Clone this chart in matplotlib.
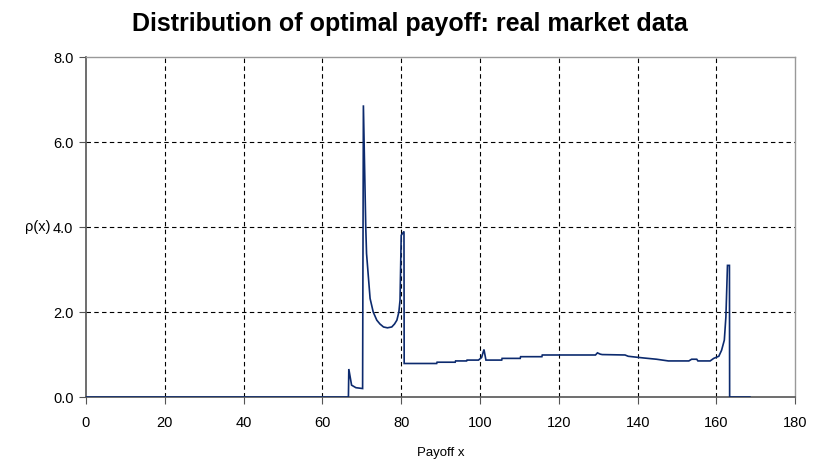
import matplotlib
matplotlib.use("Agg")
import matplotlib.pyplot as plt

plt.rcParams['font.family'] = ['Liberation Sans', 'DejaVu Sans']

# Payoff grid and estimated density of the optimal payoff
payoff = [0, 66.6, 66.7, 67.4, 68.5, 70.2, 70.4, 71.0, 71.2, 71.8, 72.1, 72.9,
          73.8, 74.6, 75.5, 76.5, 77.6, 78.3, 78.9, 79.4, 79.7, 80.0, 80.7,
          80.75, 89.0, 89.1, 93.7, 93.8, 96.6, 96.7, 99.6, 100.4, 101.0, 101.5,
          105.5, 105.6, 110.2, 110.3, 115.7, 115.8, 126.6, 129.3, 129.8, 130.5,
          131.0, 136.8, 137.6, 141.5, 144.8, 147.8, 153.0, 153.7, 155.0, 155.3,
          158.4, 159.3, 160.6, 161.3, 162.0, 162.4, 162.8, 163.3, 163.35, 168.5]
rho = [0.0, 0.0, 0.66, 0.28, 0.22, 0.2, 6.87, 4.0, 3.38, 2.67, 2.32, 2.0,
       1.81, 1.72, 1.65, 1.63, 1.65, 1.72, 1.81, 2.0, 2.28, 3.81, 3.9,
       0.79, 0.79, 0.82, 0.82, 0.85, 0.85, 0.87, 0.87, 0.93, 1.12, 0.87,
       0.87, 0.91, 0.91, 0.95, 0.95, 0.99, 0.99, 0.99, 1.04, 1.01,
       1.0, 0.99, 0.96, 0.92, 0.89, 0.85, 0.85, 0.89, 0.89, 0.85,
       0.85, 0.91, 0.96, 1.1, 1.34, 1.89, 3.1, 3.1, 0.0, 0.0]

x_ticks = list(range(0, 181, 20))
y_ticks = [0.0, 2.0, 4.0, 6.0, 8.0]

fig = plt.figure(figsize=(8.19, 4.66), dpi=100)
ax = fig.add_axes([0.105, 0.148, 0.866, 0.729])

ax.plot(payoff, rho, color='#0C2A6E', linewidth=1.2, solid_joinstyle='miter',
        zorder=3)

ax.set_xlim(0, 180)
ax.set_ylim(0, 8)
ax.set_xticks(x_ticks)
ax.set_yticks(y_ticks)
ax.set_yticklabels([f"{v:.1f}" for v in y_ticks])
ax.tick_params(axis='both', labelsize=10.5, direction='out', length=5,
               width=0.8, color='#555555', pad=4)
ax.tick_params(axis='x', pad=9)

# dashed grid on interior ticks only; the frame covers the outer ones
for v in x_ticks[1:-1]:
    ax.axvline(v, color='black', linestyle=(0, (4, 3)), linewidth=0.8, zorder=1)
for v in y_ticks[1:-1]:
    ax.axhline(v, color='black', linestyle=(0, (4, 3)), linewidth=0.8, zorder=1)

for side in ('left', 'bottom'):
    ax.spines[side].set_color('#555555')
    ax.spines[side].set_linewidth(1.2)
for side in ('top', 'right'):
    ax.spines[side].set_color('#999999')
    ax.spines[side].set_linewidth(1.0)

ax.set_xlabel('Payoff x', fontsize=9.5, labelpad=12)
ax.set_ylabel('ρ(x)', fontsize=10.5, rotation=0, labelpad=2, va='center')
ax.yaxis.set_label_coords(-0.068, 0.5)

fig.suptitle('Distribution of optimal payoff: real market data',
             fontsize=18, fontweight='bold', x=0.5, y=0.975)

fig.savefig('out.png', dpi=100)
